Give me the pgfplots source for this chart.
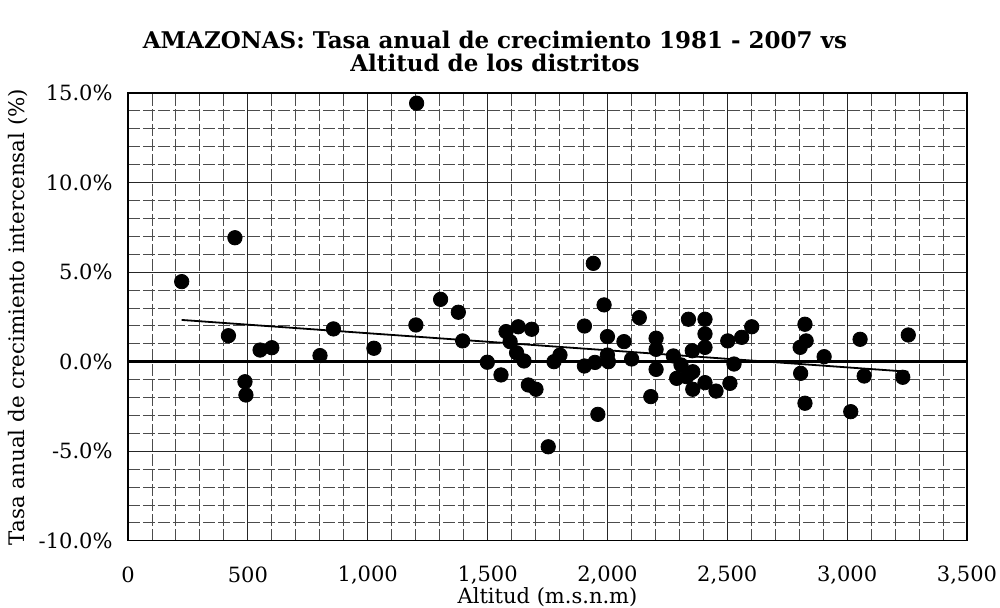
\documentclass[border=0pt]{standalone}
\usepackage{fontspec}
\setmainfont{DejaVu Serif}
\usepackage{pgfplots}
\pgfplotsset{compat=1.18}
\pgfplotstableread{
x y
224 4.47
446 6.92
419 1.45
488 -1.12
492 -1.86
551 0.65
600 0.78
801 0.34
857 1.83
1026 0.75
1201 2.05
1204 14.43
1304 3.48
1378 2.76
1396 1.16
1499 -0.03
1556 -0.74
1577 1.68
1594 1.12
1621 0.50
1628 1.95
1652 0.04
1670 -1.30
1684 1.81
1702 -1.54
1753 -4.75
1777 0.00
1802 0.37
1904 1.99
1904 -0.24
1941 5.49
1948 -0.04
1960 -2.94
1986 3.17
2000 1.40
2000 0.37
2004 0.00
2069 1.12
2101 0.15
2133 2.46
2181 -1.95
2203 1.31
2203 0.69
2203 -0.43
2275 0.32
2289 -0.93
2307 -0.18
2331 -0.84
2338 2.37
2354 0.61
2356 -0.56
2356 -1.54
2407 2.37
2407 1.55
2407 0.80
2407 -1.17
2453 -1.64
2502 1.16
2511 -1.21
2528 -0.13
2560 1.36
2602 1.95
2804 0.80
2806 -0.65
2824 2.09
2824 -2.32
2829 1.16
2904 0.28
3015 -2.79
3054 1.25
3071 -0.80
3232 -0.87
3255 1.49
}\datatable
\begin{document}
\begin{tikzpicture}
\useasboundingbox (-64pt,-33.1pt) rectangle (436pt,270.4pt);
\begin{axis}[
  at={(0pt,0pt)}, anchor=south west,
  scale only axis, width=419.5pt, height=223.9pt,
  xmin=0, xmax=3500, ymin=-10, ymax=15,
  xtick={0,500,...,3500},
  xticklabels={0,500,{1,000},{1,500},{2,000},{2,500},{3,000},{3,500}},
  ytick={-10,-5,...,15},
  yticklabels={-10.0\%,-5.0\%,0.0\%,5.0\%,10.0\%,15.0\%},
  minor x tick num=4, minor y tick num=4,
  major tick length=0pt, minor tick length=0pt,
  grid=both,
  major grid style={black!85, line width=0.5pt},
  minor grid style={black!70, line width=0.45pt, dash pattern=on 6pt off 1.5pt},
  axis line style={black, line width=0.6pt},
  tick label style={font=\fontsize{10.5}{12}\selectfont},
  xticklabel style={anchor=center, yshift=-17pt},
  yticklabel style={anchor=east, xshift=-4.2pt},
  title={AMAZONAS: Tasa anual de crecimiento 1981 - 2007 vs\\Altitud de los distritos},
  title style={align=center, font=\bfseries\fontsize{11.5}{11.5}\selectfont,
    at={(axis description cs:0.4374,1.065)}, anchor=center},
  xlabel={Altitud (m.s.n.m)},
  xlabel style={font=\fontsize{10.5}{12}\selectfont, at={(axis description cs:0.5,-0.1255)}, anchor=center},
  ylabel={Tasa anual de crecimiento intercensal (\%)},
  ylabel style={font=\fontsize{10.7}{12}\selectfont, at={(axis description cs:-0.1311,0.5)}, anchor=center},
]
\addplot[black, line width=1.3pt, forget plot] coordinates {(0,0) (3500,0)};
\addplot[black, line width=0.9pt, forget plot] coordinates {(224,2.33) (3255,-0.56)};
\addplot[only marks, mark=*, mark size=3.6pt, mark options={fill=black, draw=black}] table[x=x,y=y] {\datatable};
\end{axis}
\end{tikzpicture}
\end{document}
